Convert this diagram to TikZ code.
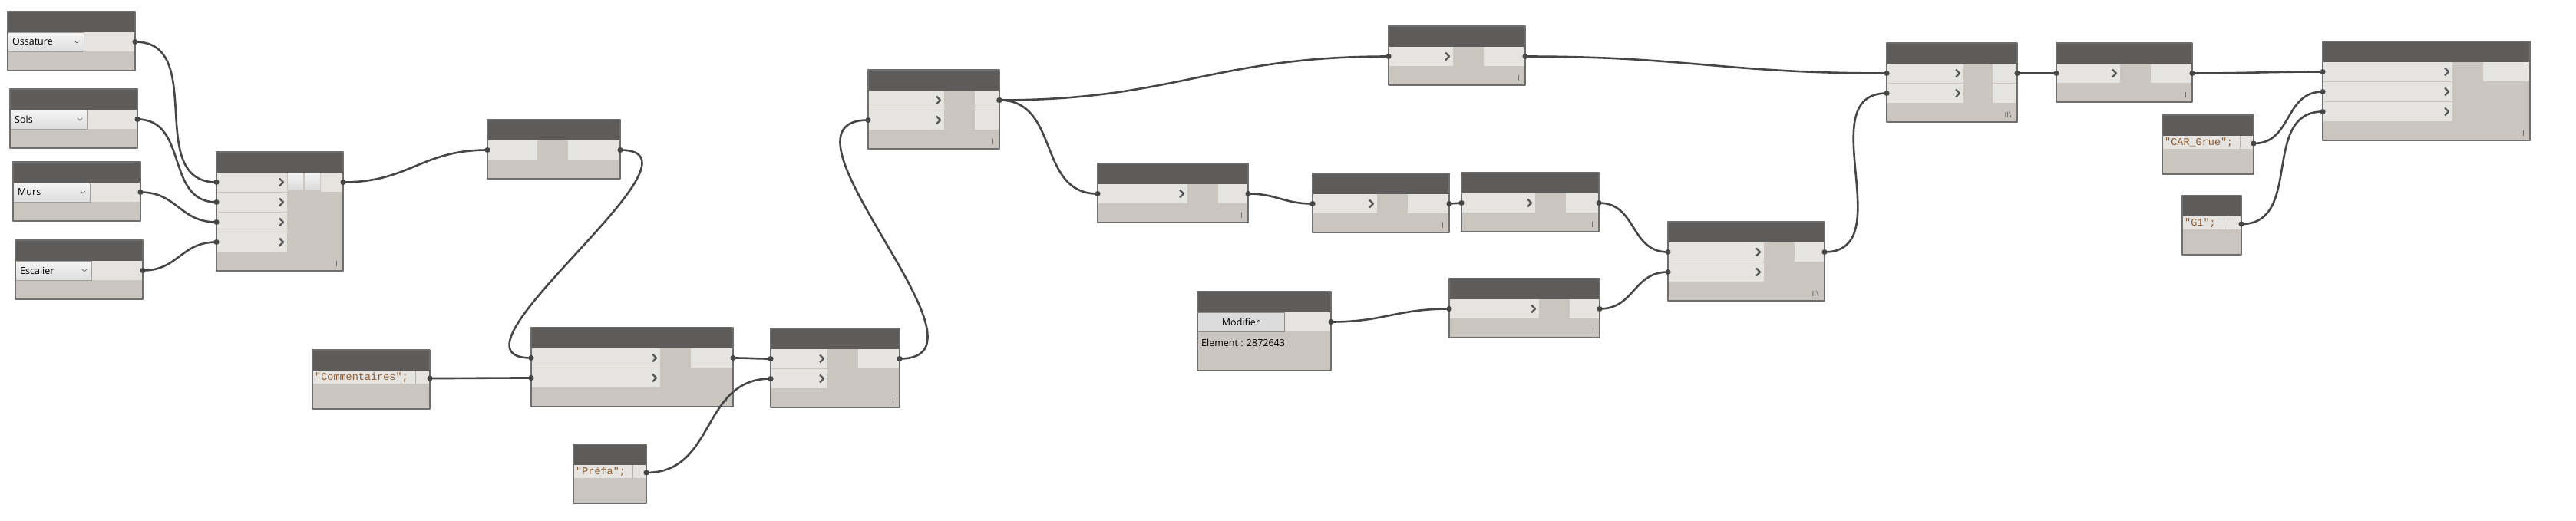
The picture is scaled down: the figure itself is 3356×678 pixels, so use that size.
\documentclass[tikz,border=0pt]{standalone}
\usepackage{fontspec}
\setmainfont{Open Sans}
\newfontfamily\codefont{Liberation Mono}
\usetikzlibrary{calc}
\definecolor{nodehead}{HTML}{5E5C5A}
\definecolor{nodebody}{HTML}{CAC6BF}
\definecolor{rowlight}{HTML}{E5E4E0}
\definecolor{nodeedge}{HTML}{6E6E6E}
\definecolor{wirec}{HTML}{464646}
\definecolor{chevc}{HTML}{575757}
\definecolor{strc}{RGB}{140,92,52}
\tikzset{
  bodyfill/.style={fill=nodebody},
  headbar/.style={fill=nodehead},
  nodeline/.style={draw=nodeedge,line width=1.2pt},
  inrow/.style={fill=rowlight},
  chev/.style={draw=chevc,line width=2.2pt},
  wire/.style={draw=wirec,line width=2.6pt},
  lacemark/.style={text=black!65,font=\fontsize{10}{10}\selectfont,inner sep=0pt,anchor=south east},
}
% Dynamo style bezier between two ports
\newcommand\dynwire[2]{%
  \draw[wire] let \p1=(#1),\p2=(#2),\n1={0.45*veclen(\x2-\x1,\y2-\y1)} in
    (\p1) .. controls +(\n1,0) and +(-\n1,0) .. (\p2);
  \fill[wirec] (#1) circle (3.6pt) (#2) circle (3.6pt);}
\begin{document}
\begin{tikzpicture}[x=1pt,y=-1pt,line join=round,font=\fontsize{12.5}{15}\selectfont]
\useasboundingbox[fill=white] (0,0) rectangle (3356,678);
% selectors
\foreach \n/\x/\y/\dw/\txt in {oss/10/15/99/Ossature,sols/13/116/100/Sols,murs/17/211/100/Murs,esc/20/313/99/Escalier}{
  \fill[bodyfill] (\x,\y) rectangle ++(166,77);
  \fill[headbar] (\x,\y) rectangle ++(166,27);
  \fill[inrow] (\x,\y+27) rectangle ++(166,25);
  \shade[top color=white!96!black,bottom color=white!87!black,draw=black!38] (\x,\y+27) rectangle ++(\dw,25);
  \draw[black!55,line width=0.9pt] (\x+\dw-12,\y+38) -- (\x+\dw-9,\y+41) -- (\x+\dw-6,\y+38);
  \node[anchor=west,inner sep=0pt] (\n-t) at (\x+6,\y+39.5) {\txt};
  \draw[nodeline] (\x,\y) rectangle ++(166,77);
  \coordinate (\n-o) at (\x+166,\y+39.5);
}
% function nodes: name/x/y/w/h/input width/inputs/output x/output rows/chevron
\foreach \n/\x/\y/\w/\h/\iw/\k/\ox/\ok/\cv in {
  a/282/198/165/155/92/4/418/1/1, b/635/156/173/77/65/1/740/1/0,
  c/692/427/263/103/168/2/900/1/1, d/1004/428/168/103/74/2/1118/1/1,
  e/1131/91/171/103/99/2/1270/2/1, f/1430/213/196/77/117/1/1587/1/1,
  g/1710/226/178/77/84/1/1834/1/1, h/1904/225/179/77/96/1/2040/1/1,
  i/1888/363/196/77/117/1/2045/1/1, j/1809/34/178/77/84/1/1933/1/1,
  k/2458/56/170/103/100/2/2596/2/1, l/2173/289/204/103/125/2/2338/1/1,
  m/2679/56/177/77/83/1/2802/1/1, n/3026/54/270/129/169/3/3235/1/1}{
  \fill[bodyfill] (\x,\y) rectangle ++(\w,\h);
  \fill[headbar] (\x,\y) rectangle ++(\w,27);
  \foreach \j in {1,...,\k}{
    \fill[inrow] (\x,\y+1+26*\j) rectangle ++(\iw,25);
    \ifnum\cv=1 \draw[chev] (\x+\iw-10,\y+8.5+26*\j) -- ++(5,5) -- ++(-5,5); \fi
    \coordinate (\n-i\j) at (\x,\y+13.5+26*\j);
  }
  \foreach \j in {1,...,\ok}
    \fill[inrow] (\ox,\y+1+26*\j) rectangle (\x+\w,\y+26+26*\j);
  \draw[nodeline] (\x,\y) rectangle ++(\w,\h);
  \coordinate (\n-o) at (\x+\w,\y+39.5);
  \coordinate (\n-se) at (\x+\w,\y+\h);
}
\foreach \p in {375,397}
  \shade[top color=white!96!black,bottom color=white!86!black] (\p,225) rectangle ++(20,22);
% lacing marks
\foreach \n/\m in {a/I,c/I,d/I,e/I,f/I,g/I,h/I,i/I,j/I,m/I,n/I,k/II\textbackslash,l/II\textbackslash}
  \node[lacemark] (\n-m) at ([shift={(-7,-5)}]\n-se) {\m};
% element selection
\fill[bodyfill] (1560,380) rectangle ++(174,103);
\fill[headbar] (1560,380) rectangle ++(174,27);
\fill[inrow] (1673,407) rectangle (1734,432);
\fill[white!86!black,draw=black!45] (1560,407) rectangle (1673,432);
\node[inner sep=0pt] (modif-b) at (1616.5,419.5) {Modifier};
\node[anchor=west,inner sep=0pt] (modif-t) at (1565,447) {Element : 2872643};
\draw[nodeline] (1560,380) rectangle ++(174,103);
\coordinate (modif-o) at (1734,419.5);
% code blocks
\foreach \n/\x/\y/\w/\tw/\txt in {com/407/456/153/134/"Commentaires";,prefa/747/579/95/77/"Préfa";,
  grue/2817/150/119/101/"CAR\_Grue";,gun/2843/255/77/59/"G1";}{
  \fill[bodyfill] (\x,\y) rectangle ++(\w,77);
  \fill[headbar] (\x,\y) rectangle ++(\w,27);
  \fill[inrow] (\x,\y+27) rectangle ++(\w,17);
  \draw[black!30,line width=0.8pt] (\x+\tw,\y+27) -- ++(0,17);
  \node[anchor=west,inner sep=0pt,text=strc,font=\codefont\fontsize{13.5}{15}\selectfont] (\n-t) at (\x+3,\y+35.5) {\txt};
  \draw[nodeline] (\x,\y) rectangle ++(\w,77);
  \coordinate (\n-o) at (\x+\w,\y+37);
}
% wires
\foreach \s/\d in {oss-o/a-i1,sols-o/a-i2,murs-o/a-i3,esc-o/a-i4,a-o/b-i1,b-o/c-i1,
  com-o/c-i2,c-o/d-i1,prefa-o/d-i2,d-o/e-i2,e-o/j-i1,e-o/f-i1,f-o/g-i1,g-o/h-i1,
  h-o/l-i1,modif-o/i-i1,i-o/l-i2,j-o/k-i1,l-o/k-i2,k-o/m-i1,m-o/n-i1,grue-o/n-i2,gun-o/n-i3}
  \dynwire{\s}{\d};
\end{tikzpicture}
\end{document}
